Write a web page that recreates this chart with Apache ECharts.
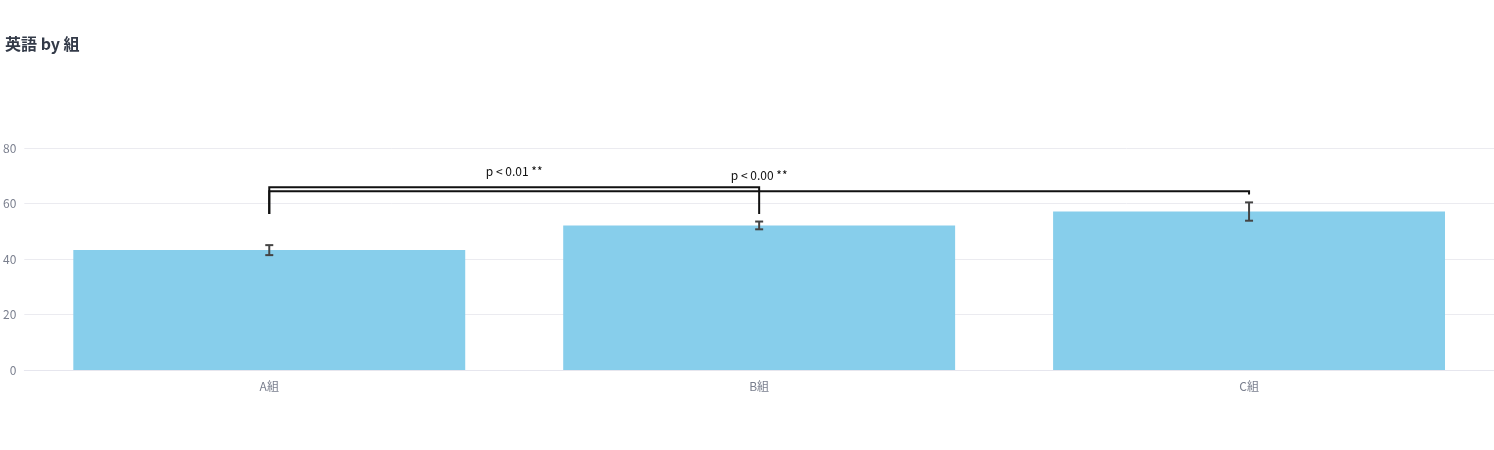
<!DOCTYPE html>
<html><head><meta charset="utf-8">
<script src="https://cdn.jsdelivr.net/npm/echarts@6/dist/echarts.min.js"></script>
<style>html,body{margin:0;padding:0;background:#fff}#c{width:1494px;height:450px}</style>
</head><body><div id="c"></div>
<script>
const categories = ['A組', 'B組', 'C組'];
const means = [43.2, 52.1, 57.1];
const errors = [1.8, 1.4, 3.3];
const yTicks = [0, 20, 40, 60, 80];
// brackets: [fromIndex, toIndex, topValue, dropFromValue, dropToValue, label]
const bracketFrom = [0, 0];
const bracketTo = [1, 2];
const bracketTop = [65.9, 64.4];
const bracketLeftEnd = [56.2, 56.2];
const bracketRightEnd = [56.2, 63.2];
const bracketLabels = ['p < 0.01 **', 'p < 0.00 **'];

const FONT = '"Noto Sans CJK JP", "Noto Sans", sans-serif';
const chart = echarts.init(document.getElementById('c'));
const errData = categories.map((c, i) => [i, means[i] - errors[i], means[i] + errors[i]]);
const brData = bracketFrom.map((f, i) => [f, bracketTo[i], bracketTop[i], bracketLeftEnd[i], bracketRightEnd[i], i]);

chart.setOption({
  animation: false,
  textStyle: { fontFamily: FONT },
  title: {
    text: '英語 by 組', left: 0, top: 31,
    textStyle: { fontSize: 16, fontWeight: 'bold', color: '#333a48', fontFamily: FONT }
  },
  grid: { left: 22, right: 0, top: 148, bottom: 80 },
  xAxis: {
    type: 'category', data: categories,
    axisLine: { lineStyle: { color: '#e6e6ee' } },
    axisTick: { show: false },
    axisLabel: { color: '#7a7f8e', fontSize: 12, margin: 10 }
  },
  yAxis: {
    type: 'value', min: yTicks[0], max: yTicks[yTicks.length - 1], interval: 20,
    axisLabel: { color: '#7a7f8e', fontSize: 12, margin: 8 },
    splitLine: { lineStyle: { color: '#ebebf0' } },
    axisLine: { show: false }, axisTick: { show: false }
  },
  series: [
    {
      type: 'bar', data: means, barWidth: '80%',
      itemStyle: { color: '#87ceeb' }
    },
    {
      type: 'custom', data: errData, z: 5,
      renderItem: function (params, api) {
        const x = api.value(0);
        const lo = api.coord([x, api.value(1)]);
        const hi = api.coord([x, api.value(2)]);
        const w = 4;
        const st = { stroke: '#444', lineWidth: 2 };
        return { type: 'group', children: [
          { type: 'line', shape: { x1: lo[0], y1: lo[1], x2: hi[0], y2: hi[1] }, style: st },
          { type: 'line', shape: { x1: lo[0] - w, y1: lo[1], x2: lo[0] + w, y2: lo[1] }, style: st },
          { type: 'line', shape: { x1: hi[0] - w, y1: hi[1], x2: hi[0] + w, y2: hi[1] }, style: st }
        ]};
      }
    },
    {
      type: 'custom', data: brData, z: 6,
      renderItem: function (params, api) {
        const a = api.coord([api.value(0), api.value(2)]);
        const b = api.coord([api.value(1), api.value(2)]);
        const aEnd = api.coord([api.value(0), api.value(3)]);
        const bEnd = api.coord([api.value(1), api.value(4)]);
        const idx = api.value(5);
        const cx = (a[0] + b[0]) / 2;
        return { type: 'group', children: [
          { type: 'polyline', shape: { points: [[aEnd[0], aEnd[1]], [a[0], a[1]], [b[0], b[1]], [bEnd[0], bEnd[1]]] },
            style: { stroke: '#111', lineWidth: 2, fill: null } },
          { type: 'text', x: cx, y: a[1] - 10,
            style: { text: bracketLabels[idx], fill: '#111', fontSize: 12, fontFamily: FONT, align: 'center', verticalAlign: 'bottom' } }
        ]};
      }
    }
  ]
});
</script></body></html>
